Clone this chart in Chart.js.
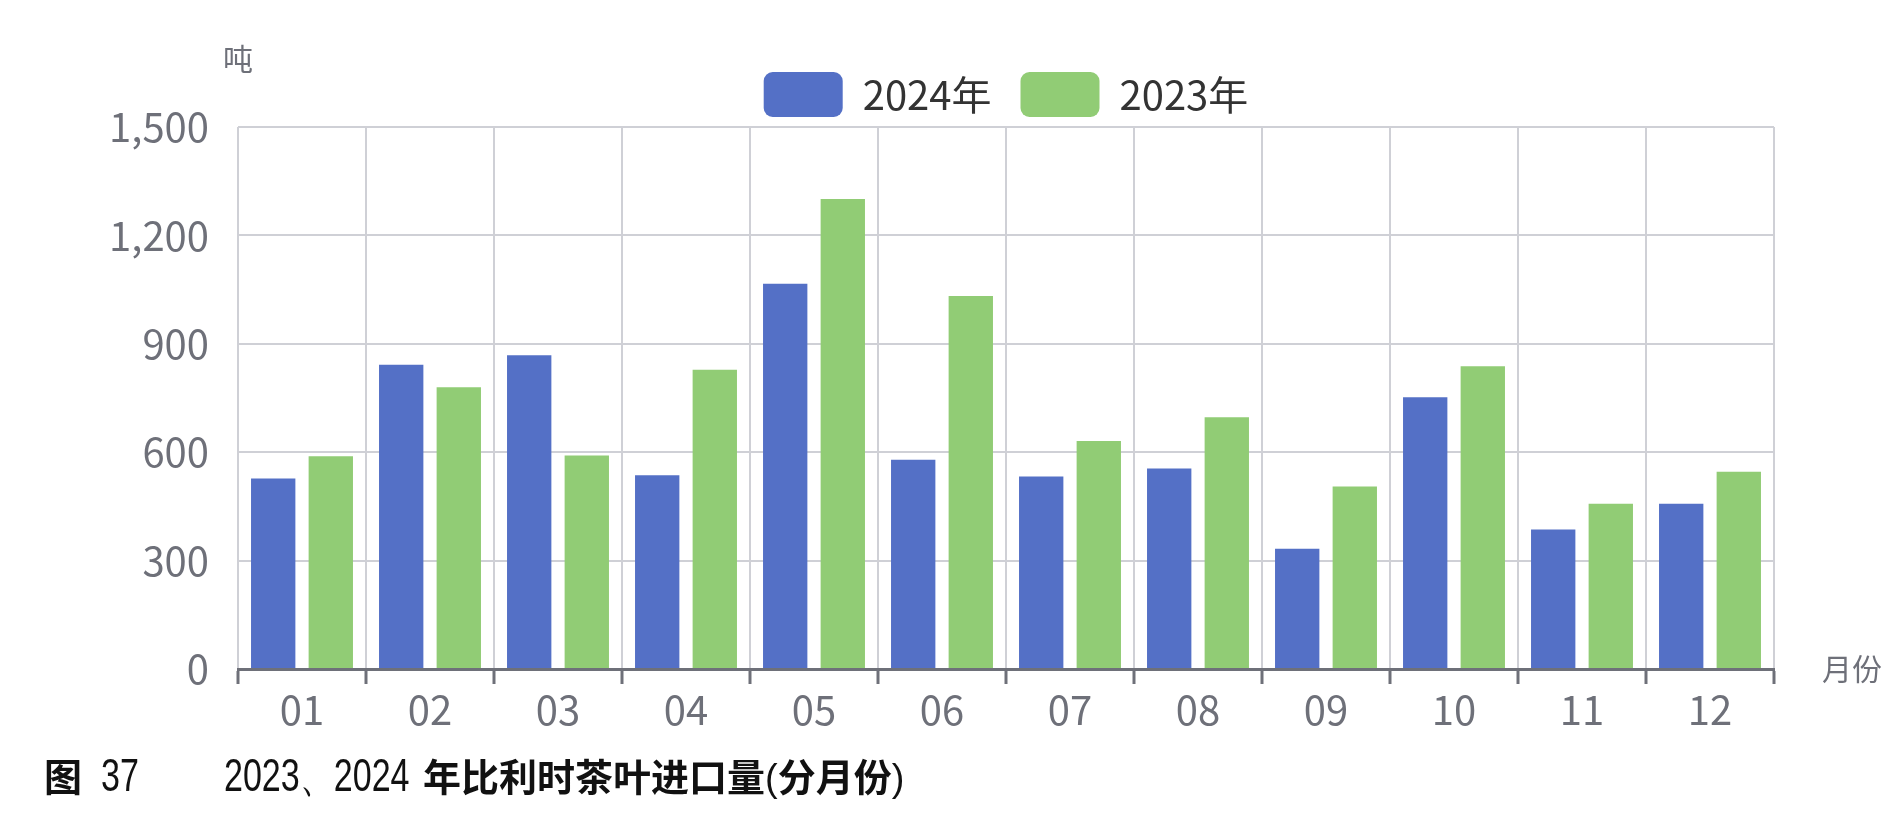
<!DOCTYPE html>
<html>
<head>
<meta charset="utf-8">
<script src="https://cdn.jsdelivr.net/npm/chart.js@4/dist/chart.umd.min.js"></script>
<style>
  html, body { margin: 0; padding: 0; background: #fff; }
  #wrap { position: relative; width: 1896px; height: 829px; }
  #chart1 { position: absolute; left: 0; top: 0; }
  .cap { position: absolute; top: 752px; font-family: "Noto Sans CJK SC", sans-serif; color: #111; white-space: nowrap; line-height: 46px; }
  .narrow { font-family: "Liberation Sans", sans-serif; font-size: 46px; transform: scaleX(0.74); transform-origin: left center; }
</style>
</head>
<body>
<div id="wrap">
  <canvas id="chart1" width="1896" height="829"></canvas>
  <div class="cap" style="left:44px;font-size:38px;font-weight:700;">图</div>
  <div class="cap narrow" style="left:101px;">37</div>
  <div class="cap narrow" style="left:224px;">2023、2024</div>
  <div class="cap" style="left:423px;font-size:38px;font-weight:700;">年比利时茶叶进口量<span style="font-weight:400;font-family:'Liberation Sans',sans-serif;">(</span>分月份<span style="font-weight:400;font-family:'Liberation Sans',sans-serif;">)</span></div>
</div>
<script>
// 月份
const months = ['01', '02', '03', '04', '05', '06', '07', '08', '09', '10', '11', '12'];
// 进口量 (吨)
const import2024 = [527, 842, 868, 536, 1066, 579, 533, 555, 333, 752, 386, 457];
const import2023 = [589, 780, 591, 828, 1301, 1032, 631, 697, 505, 838, 457, 546];
// y 轴刻度
const yTicks = [0, 300, 600, 900, 1200, 1500];

const axisGray = '#6e7079';
const gridGray = '#cfd0d6';
const tickFont = { family: '"Noto Sans CJK SC", sans-serif', size: 40 };

// 轴名称 "吨" 和 "月份"
const axisNames = {
  id: 'axisNames',
  afterDraw(chart) {
    const { ctx, chartArea } = chart;
    ctx.save();
    ctx.fillStyle = axisGray;
    ctx.font = '30px "Noto Sans CJK SC", sans-serif';
    ctx.textBaseline = 'middle';
    ctx.textAlign = 'center';
    ctx.fillText('吨', chartArea.left, 59);
    ctx.textAlign = 'left';
    ctx.fillText('月份', chartArea.right + 48, chartArea.bottom);
    ctx.restore();
  }
};

const ctx = document.getElementById('chart1').getContext('2d');
new Chart(ctx, {
  type: 'bar',
  data: {
    labels: months,
    datasets: [
      {
        label: '2024年',
        data: import2024,
        backgroundColor: '#5470c6'
      },
      {
        label: '2023年',
        data: import2023,
        backgroundColor: '#91cc75'
      }
    ]
  },
  options: {
    responsive: false,
    animation: false,
    layout: { padding: { left: 0, right: 122, top: 43, bottom: 93 } },
    datasets: {
      bar: { categoryPercentage: 0.9, barPercentage: 0.77 }
    },
    plugins: {
      tooltip: { enabled: false },
      legend: {
        position: 'top',
        fullSize: false,
        labels: {
          boxWidth: 79,
          boxHeight: 45,
          useBorderRadius: true,
          borderRadius: 9,
          padding: 29,
          color: '#333',
          font: { family: '"Noto Sans CJK SC", sans-serif', size: 40 }
        }
      }
    },
    scales: {
      x: {
        offset: true,
        grid: {
          color: gridGray,
          lineWidth: 2,
          offset: true,
          tickLength: 15,
          tickColor: axisGray,
          tickWidth: 3
        },
        border: { color: axisGray, width: 3 },
        ticks: { color: axisGray, font: tickFont, padding: 2, maxRotation: 0 },
        afterFit(scale) { scale.height = 67; }
      },
      y: {
        min: 0,
        max: 1500,
        afterBuildTicks(scale) { scale.ticks = yTicks.map(v => ({ value: v })); },
        grid: { color: gridGray, lineWidth: 2, drawTicks: false },
        border: { display: false },
        ticks: {
          color: axisGray,
          font: tickFont,
          padding: 29,
          callback: v => v.toLocaleString('en-US')
        },
        afterFit(scale) { scale.width = 238; }
      }
    }
  },
  plugins: [axisNames]
});
</script>
</body>
</html>
